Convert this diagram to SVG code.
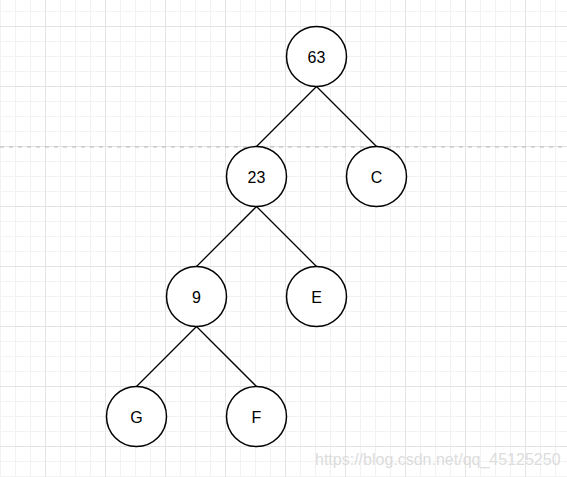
<svg xmlns="http://www.w3.org/2000/svg" width="567" height="477" viewBox="0 0 567 477">
<defs>
<pattern id="grid" patternUnits="userSpaceOnUse" x="45" y="26" width="60" height="60">
<rect width="60" height="60" fill="#ffffff"/>
<path d="M15.5 0V60M30.5 0V60M45.5 0V60M0 15.5H60M0 30.5H60M0 45.5H60" stroke="#f2f2f2" stroke-width="1" fill="none"/>
<path d="M0.5 0V60M0 0.5H60" stroke="#e3e3e3" stroke-width="1" fill="none"/>
</pattern>
<style>
.node circle{fill:#ffffff;stroke:#000000;stroke-width:1.5}
.node text{font-family:"Liberation Sans",Arial,sans-serif;font-size:16px;fill:#000000;text-anchor:middle}
.edges line{stroke:#000000;stroke-width:1.3}
</style>
</defs>
<rect width="567" height="477" fill="url(#grid)"/>
<line x1="0" y1="147" x2="567" y2="147" stroke="#b8b8b8" stroke-width="1" stroke-dasharray="4 5"/>
<g class="edges">
<line x1="316.5" y1="86.5" x2="256.5" y2="146.5"/>
<line x1="316.5" y1="86.5" x2="376.5" y2="146.5"/>
<line x1="256.5" y1="206.5" x2="196.5" y2="266.5"/>
<line x1="256.5" y1="206.5" x2="316.5" y2="266.5"/>
<line x1="196.5" y1="326.5" x2="136.5" y2="386.5"/>
<line x1="196.5" y1="326.5" x2="256.5" y2="386.5"/>
</g>
<g id="n63" class="node"><circle cx="316.5" cy="56.5" r="30"/><text x="316.5" y="62.5">63</text></g>
<g id="n23" class="node"><circle cx="256.5" cy="176.5" r="30"/><text x="256.5" y="182.5">23</text></g>
<g id="nC" class="node"><circle cx="376.5" cy="176.5" r="30"/><text x="376.5" y="182.5">C</text></g>
<g id="n9" class="node"><circle cx="196.5" cy="296.5" r="30"/><text x="196.5" y="302.5">9</text></g>
<g id="nE" class="node"><circle cx="316.5" cy="296.5" r="30"/><text x="316.5" y="302.5">E</text></g>
<g id="nG" class="node"><circle cx="136.5" cy="416.5" r="30"/><text x="136.5" y="422.5">G</text></g>
<g id="nF" class="node"><circle cx="256.5" cy="416.5" r="30"/><text x="256.5" y="422.5">F</text></g>
<text x="315" y="465" font-family="'Liberation Sans',Arial,sans-serif" font-size="16" fill="#dcdcdc">https://blog.csdn.net/qq_45125250</text>
</svg>
